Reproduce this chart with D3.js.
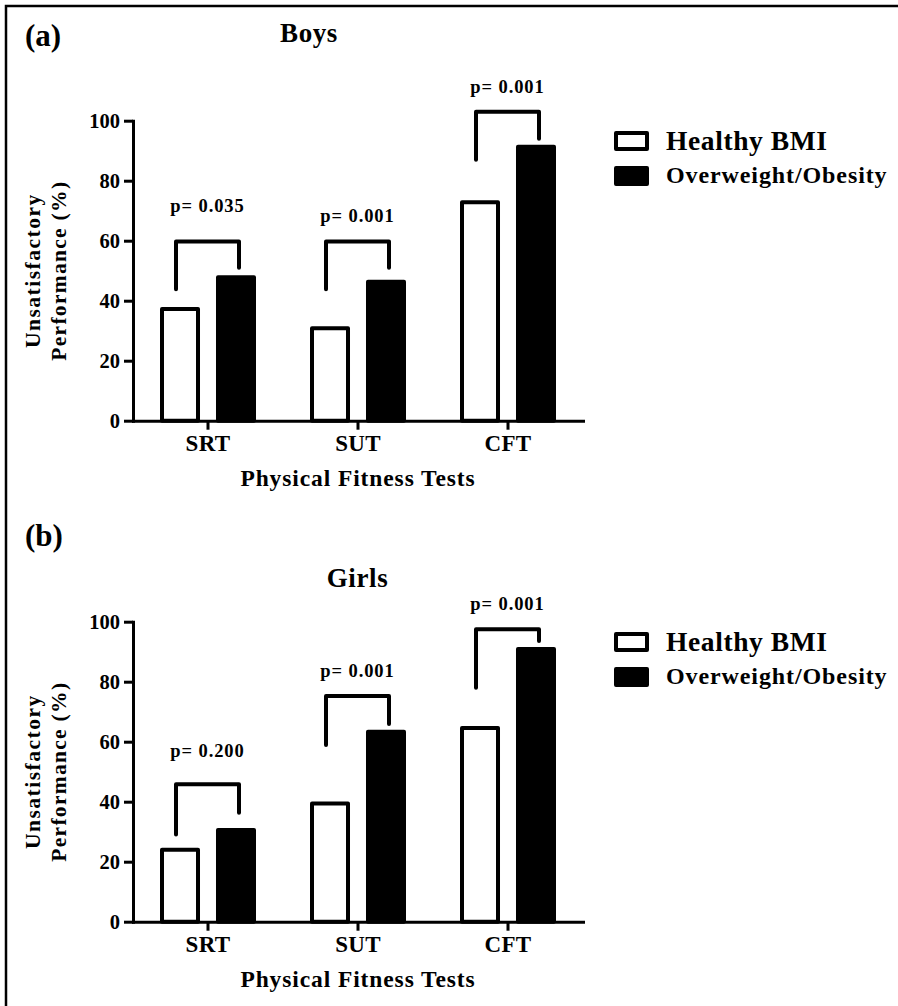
<!DOCTYPE html>
<html>
<head>
<meta charset="utf-8">
<script src="https://cdn.jsdelivr.net/npm/d3@7"></script>
<style>
  body { margin: 0; background: #fff; }
  svg text { font-family: "Liberation Serif", "Times New Roman", serif; font-weight: bold; fill: #000; }
</style>
</head>
<body>
<svg id="chart"></svg>
<script>
let svgWidth = 898, svgHeight = 1006

// data
const categories = ['SRT', 'SUT', 'CFT']
const series = ['Healthy BMI', 'Overweight/Obesity']
const yTicks = [0, 20, 40, 60, 80, 100]

const boysHealthy = [37.2, 30.8, 72.8]
const boysOver = [47.8, 46.3, 91.3]
const girlsHealthy = [24, 39.4, 64.6]
const girlsOver = [30.6, 63.3, 90.9]

const boysP = ['p= 0.035', 'p= 0.001', 'p= 0.001']
const girlsP = ['p= 0.200', 'p= 0.001', 'p= 0.001']

// bracket levels (in axis units): top bar, left leg end, right leg end, label baseline
const boysBracketTop = [59.7, 59.7, 103]
const boysBracketLeft = [43.8, 43.8, 87]
const boysBracketRight = [51, 51, 94]
const boysLabelAt = [69.7, 66.3, 109.1]
const girlsBracketTop = [45.8, 75.2, 97.5]
const girlsBracketLeft = [29.1, 58.9, 78]
const girlsBracketRight = [36.3, 65.9, 93.6]
const girlsLabelAt = [55, 81.5, 103.9]

let svg = d3.select('#chart').attr('width', svgWidth).attr('height', svgHeight)
svg.append('rect').attr('width', svgWidth).attr('height', svgHeight).attr('fill', '#fff')

// frame (only top and left edges fall inside the picture)
svg.append('path')
  .attr('d', `M6,${svgHeight + 5} L6,6 L${svgWidth + 5},6`)
  .attr('fill', 'none').attr('stroke', '#000').attr('stroke-width', 2.5)

const plotW = 450, plotH = 300

function drawPanel(opts){
  let g = svg.append('g').attr('transform', `translate(133,${opts.top})`)

  let x0 = d3.scaleBand().domain(categories).range([0, plotW])
  let mid = x0.bandwidth() / 2
  let x1 = d3.scaleBand().domain(series).range([mid - 46, mid + 46]).paddingInner(0.357)
  let y = d3.scaleLinear().domain([0, 100]).range([plotH, 0])

  let rows = categories.map((c, i) => ({
    cat: c,
    vals: [opts.healthy[i], opts.over[i]],
    p: opts.p[i], top: opts.bTop[i], left: opts.bLeft[i], right: opts.bRight[i], lab: opts.labAt[i]
  }))

  // bars
  let grp = g.selectAll('.grp').data(rows).enter().append('g')
    .attr('transform', d => `translate(${x0(d.cat)},0)`)
  grp.selectAll('rect').data(d => d.vals.map((v, k) => ({ s: series[k], v: v })))
    .enter().append('rect')
    .attr('x', d => x1(d.s))
    .attr('y', d => y(d.v))
    .attr('width', x1.bandwidth())
    .attr('height', d => y(0) - y(d.v))
    .attr('fill', d => d.s === series[0] ? '#fff' : '#000')
    .attr('stroke', '#000').attr('stroke-width', 4).attr('stroke-linejoin', 'round')

  // significance brackets
  grp.append('path')
    .attr('d', d => {
      let xl = mid - 32, xr = mid + 31
      return `M${xl},${y(d.left)} L${xl},${y(d.top)} L${xr},${y(d.top)} L${xr},${y(d.right)}`
    })
    .attr('fill', 'none').attr('stroke', '#000').attr('stroke-width', 4)
    .attr('stroke-linejoin', 'round').attr('stroke-linecap', 'round')
  grp.append('text')
    .attr('x', mid - 0.5).attr('y', d => y(d.lab))
    .attr('text-anchor', 'middle')
    .style('font-size', '18.5px').style('letter-spacing', '0.9px')
    .text(d => d.p)

  // axes
  let yAxis = g.append('g').call(d3.axisLeft(y).tickValues(yTicks).tickSize(9).tickSizeOuter(0).tickPadding(4))
  let xAxis = g.append('g').attr('transform', `translate(0,${plotH})`)
    .call(d3.axisBottom(x0).tickSize(9).tickSizeOuter(0).tickPadding(6))
  ;[yAxis, xAxis].forEach(a => {
    a.select('.domain').attr('stroke-width', 3).attr('stroke-linecap', 'square')
    a.selectAll('.tick line').attr('stroke-width', 3)
    a.selectAll('text').attr('font-family', null).attr('font-size', null)
  })
  yAxis.selectAll('text').style('font-size', '20.5px')
  xAxis.selectAll('text').style('font-size', '23px').style('letter-spacing', '0.3px').attr('dy', null).attr('y', 30)

  g.append('text')
    .attr('x', plotW / 2).attr('y', plotH + 65.5)
    .attr('text-anchor', 'middle')
    .style('font-size', '23.5px').style('letter-spacing', '0.9px')
    .text('Physical Fitness Tests')

  let yt = g.append('g').attr('transform', `translate(0,${plotH / 2}) rotate(-90)`)
  yt.append('text').attr('x', 0).attr('y', 39.5 - 133).attr('text-anchor', 'middle')
    .style('font-size', '21.5px').style('letter-spacing', '1.5px').text('Unsatisfactory')
  yt.append('text').attr('x', 0).attr('y', 66 - 133).attr('text-anchor', 'middle')
    .style('font-size', '21.5px').style('letter-spacing', '1.3px').text('Performance (%)')

  // title and panel tag
  g.append('text').attr('x', opts.titleX - 133).attr('y', opts.titleY)
    .attr('text-anchor', 'middle').style('font-size', '27px').style('letter-spacing', '0.6px')
    .text(opts.title)
  g.append('text').attr('x', 25 - 133).attr('y', opts.tagY)
    .style('font-size', '31px').text(opts.tag)

  // legend
  let leg = g.append('g').attr('transform', `translate(${616 - 133},0)`)
  let item = leg.selectAll('.leg').data(series).enter().append('g')
    .attr('transform', (d, i) => `translate(0,${12.2 + i * 35})`)
  item.append('rect').attr('width', 31).attr('height', 16)
    .attr('fill', (d, i) => i === 0 ? '#fff' : '#000')
    .attr('stroke', '#000').attr('stroke-width', 4).attr('stroke-linejoin', 'round')
  item.append('text').attr('x', 50).attr('y', (d, i) => i === 0 ? 17 : 15.5)
    .style('font-size', (d, i) => i === 0 ? '27.5px' : '24px')
    .style('letter-spacing', (d, i) => i === 0 ? '0.6px' : '0.9px')
    .text(d => d)
}

drawPanel({
  top: 120.7, title: 'Boys', titleX: 309, titleY: -78.7, tag: '(a)', tagY: 46 - 120.7,
  healthy: boysHealthy, over: boysOver, p: boysP,
  bTop: boysBracketTop, bLeft: boysBracketLeft, bRight: boysBracketRight, labAt: boysLabelAt
})
drawPanel({
  top: 621.7, title: 'Girls', titleX: 357.5, titleY: -34.7, tag: '(b)', tagY: 546 - 621.7,
  healthy: girlsHealthy, over: girlsOver, p: girlsP,
  bTop: girlsBracketTop, bLeft: girlsBracketLeft, bRight: girlsBracketRight, labAt: girlsLabelAt
})
</script>
</body>
</html>
